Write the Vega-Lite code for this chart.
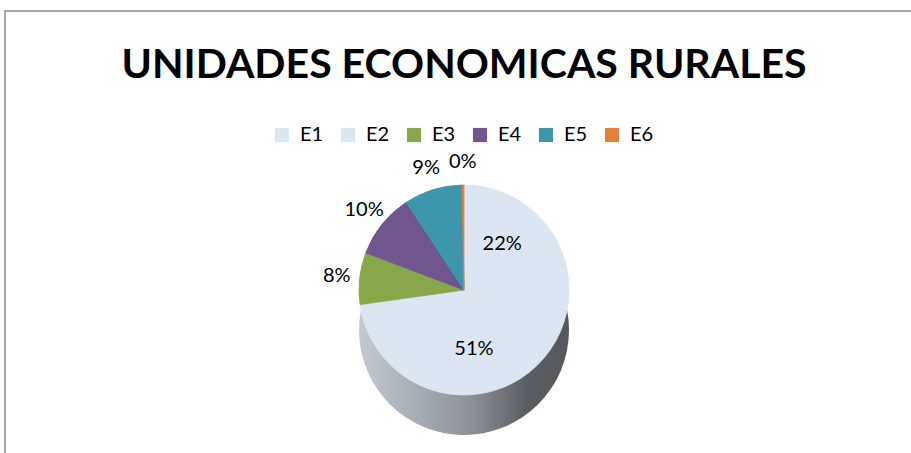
{
  "$schema": "https://vega.github.io/schema/vega-lite/v6.json",
  "width": 918,
  "height": 558,
  "autosize": {"type": "none"},
  "padding": {"left": 5, "top": 11, "right": 0, "bottom": 0},
  "background": "white",
  "config": {"view": {"stroke": null}, "font": "Lato"},
  "title": {
    "text": "UNIDADES ECONOMICAS RURALES",
    "font": "Lato",
    "fontSize": 41,
    "fontWeight": "bold",
    "color": "#000000",
    "anchor": "middle",
    "offset": 0,
    "dy": 109,
    "baseline": "alphabetic"
  },
  "data": {
    "values": [
      {"cat": "E1", "value": 0.22},
      {"cat": "E2", "value": 0.51},
      {"cat": "E3", "value": 0.08},
      {"cat": "E4", "value": 0.10},
      {"cat": "E5", "value": 0.09},
      {"cat": "E6", "value": 0.003}
    ]
  },
  "layer": [
    {
      "data": {"values": [{"part": "frame"}]},
      "mark": {"type": "rect", "filled": false, "stroke": "#8c8c8c", "strokeWidth": 1.5},
      "encoding": {}
    },
    {
      "data": {"values": [{"part": "side"}]},
      "mark": {
        "type": "arc",
        "theta": 0,
        "theta2": 6.2832,
        "outerRadius": 105,
        "yOffset": 40,
        "color": {
          "gradient": "linear",
          "x1": 0, "x2": 1, "y1": 0, "y2": 0,
          "stops": [
            {"offset": 0, "color": "#c3cad2"},
            {"offset": 0.55, "color": "#8a8f95"},
            {"offset": 0.8, "color": "#5a5d62"},
            {"offset": 1, "color": "#55585c"}
          ]
        }
      },
      "encoding": {}
    },
    {
      "mark": {"type": "arc", "outerRadius": 105, "strokeWidth": 0.8},
      "encoding": {
        "theta": {"field": "value", "type": "quantitative"},
        "order": {"field": "cat", "type": "ordinal"},
        "stroke": {
          "field": "cat",
          "type": "nominal",
          "scale": {
            "domain": ["E1", "E2", "E3", "E4", "E5", "E6"],
            "range": ["#dce6f2", "#dce6f2", "#88a64a", "#70568d", "#3e96ad", "#e0803c"]
          },
          "legend": null
        },
        "color": {
          "field": "cat",
          "type": "nominal",
          "scale": {
            "domain": ["E1", "E2", "E3", "E4", "E5", "E6"],
            "range": ["#dce6f2", "#dce6f2", "#88a64a", "#70568d", "#3e96ad", "#e0803c"]
          },
          "legend": {
            "orient": "none",
            "direction": "horizontal",
            "legendX": 267,
            "legendY": 114,
            "title": null,
            "symbolType": "square",
            "symbolSize": 200,
            "symbolStrokeWidth": 0,
            "labelFontSize": 20,
            "labelFont": "Lato",
            "labelColor": "#000000",
            "columnPadding": 14,
            "labelOffset": 8
          }
        }
      }
    },
    {
      "mark": {"type": "text", "radius": 60, "fontSize": 20, "font": "Lato", "color": "#000000"},
      "encoding": {
        "theta": {"field": "value", "type": "quantitative", "stack": true},
        "order": {"field": "cat", "type": "ordinal"},
        "text": {
          "condition": {"test": "datum.value > 0.15", "field": "value", "format": ".0%"},
          "value": ""
        }
      }
    },
    {
      "mark": {"type": "text", "radius": 128, "fontSize": 20, "font": "Lato", "color": "#000000"},
      "encoding": {
        "theta": {"field": "value", "type": "quantitative", "stack": true},
        "order": {"field": "cat", "type": "ordinal"},
        "text": {
          "condition": {"test": "datum.value <= 0.15", "field": "value", "format": ".0%"},
          "value": ""
        }
      }
    }
  ]
}
